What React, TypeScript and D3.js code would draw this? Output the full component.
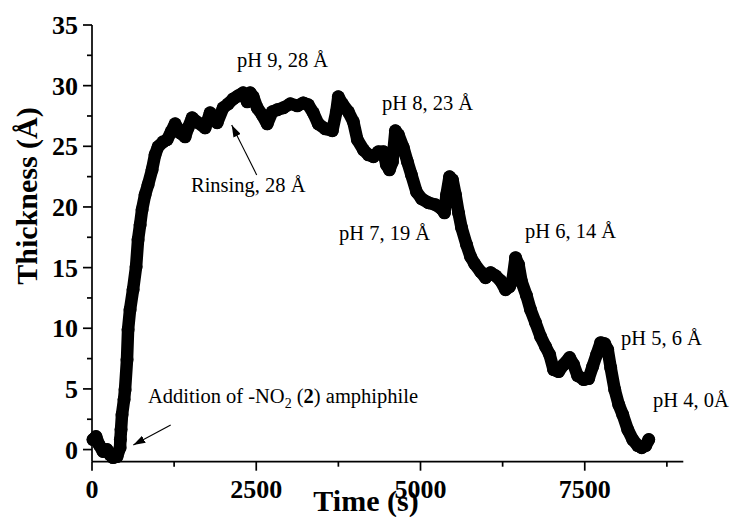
import React from "react";
import * as d3 from "d3";

const timeS: number[] = [
  15, 61, 107, 168, 229, 274, 320, 381, 427, 432, 442, 457, 488, 503, 533, 549, 579, 625, 671, 701,
  732, 762, 808, 853, 914, 960, 1006, 1082, 1143, 1204, 1265, 1341, 1417, 1463, 1524, 1615, 1722, 1798, 1905, 1996,
  2073, 2149, 2225, 2301, 2362, 2408, 2454, 2515, 2591, 2667, 2743, 2819, 2911, 3018, 3124, 3216, 3292, 3368, 3444, 3551,
  3658, 3719, 3749, 3810, 3902, 3978, 4039, 4131, 4207, 4283, 4359, 4436, 4481, 4527, 4573, 4618, 4664, 4740, 4801, 4862,
  4939, 5015, 5121, 5228, 5320, 5365, 5396, 5442, 5487, 5533, 5579, 5625, 5701, 5762, 5823, 5914, 5990, 6067, 6143, 6219,
  6294, 6355, 6401, 6447, 6493, 6538, 6614, 6675, 6751, 6828, 6904, 6965, 7026, 7102, 7178, 7269, 7330, 7391, 7483, 7559,
  7620, 7681, 7742, 7803, 7849, 7895, 7956, 8017, 8078, 8154, 8230, 8306, 8367, 8428, 8474,
];
const thicknessA: number[] = [
  0.82, 1.07, 0.41, -0.16, 0.0, -0.41, -0.66, -0.58, 0.16, 0.82, 1.65, 2.88, 4.12, 4.94, 7.41, 9.88, 11.53, 13.18, 15.07, 17.3,
  18.53, 19.77, 21.0, 21.83, 23.06, 24.3, 24.96, 25.37, 25.54, 26.19, 26.85, 26.11, 25.78, 26.52, 27.35, 26.94, 26.52, 27.76, 26.94, 28.17,
  28.5, 28.91, 29.16, 29.41, 28.67, 29.41, 29.08, 28.17, 27.59, 26.85, 27.84, 28.01, 28.17, 28.5, 28.34, 28.58, 28.42, 27.76, 26.85, 26.44,
  26.28, 27.84, 29.08, 28.5, 27.84, 27.02, 25.54, 24.71, 24.3, 24.14, 24.55, 24.55, 23.48, 23.06, 23.72, 26.28, 25.95, 24.88, 23.72, 22.65,
  21.25, 20.68, 20.35, 20.18, 19.85, 19.52, 21.0, 22.49, 22.24, 21.0, 19.52, 18.29, 16.89, 15.9, 15.32, 14.66, 14.17, 14.58, 14.33, 13.92,
  13.18, 13.43, 14.0, 15.82, 15.24, 13.84, 12.69, 11.53, 10.46, 9.31, 8.48, 7.83, 6.59, 6.43, 7.0, 7.58, 7.0, 6.1, 5.77, 5.85,
  6.84, 7.83, 8.81, 8.73, 8.24, 6.75, 4.94, 3.71, 2.88, 1.65, 0.82, 0.33, 0.16, 0.33, 0.82,
];

const xTicks: number[] = [0, 2500, 5000, 7500];
const xMinorTicks: number[] = [1250, 3750, 6250, 8750];
const yTicks: number[] = [0, 5, 10, 15, 20, 25, 30, 35];
const yMinorTicks: number[] = [2.5, 7.5, 12.5, 17.5, 22.5, 27.5, 32.5];

const W = 730;
const H = 517;
const FONT = "'Liberation Serif', 'Times New Roman', Times, serif";

export default function App() {
  const x = d3.scaleLinear().domain([0, 9000]).range([92, 683.3]);
  const y = d3.scaleLinear().domain([-1, 35]).range([461.7, 25]);
  const data = timeS.map((t, i) => ({ t, v: thicknessA[i] }));
  const line = d3
    .line<{ t: number; v: number }>()
    .x((d) => x(d.t))
    .y((d) => y(d.v));

  const x0 = x.range()[0];
  const x1 = x.range()[1];
  const y0 = y.range()[0];
  const y1 = y.range()[1];

  return (
    <svg
      width={W}
      height={H}
      viewBox={`0 0 ${W} ${H}`}
      style={{ position: "absolute", left: 0, top: 0, background: "#fff" }}
      fontFamily={FONT}
    >
      <defs>
        <marker id="ah" viewBox="0 0 12 8" refX="12" refY="4" markerWidth="12" markerHeight="8" markerUnits="userSpaceOnUse" orient="auto">
          <path d="M0,0 L12,4 L0,8 Z" fill="#000" />
        </marker>
      </defs>

      {/* data */}
      <path d={line(data) || ""} fill="none" stroke="#000" strokeWidth={12.5} strokeLinejoin="round" strokeLinecap="round" />
      {data.map((d, i) => (
        <circle key={i} cx={x(d.t)} cy={y(d.v)} r={6.5} fill="#000" />
      ))}

      {/* axes */}
      <line x1={x0} y1={y0} x2={x1} y2={y0} stroke="#000" strokeWidth={1.7} />
      <line x1={x0} y1={y0} x2={x0} y2={y1} stroke="#000" strokeWidth={1.7} />
      {xTicks.map((t) => (
        <g key={"xt" + t}>
          <line x1={x(t)} x2={x(t)} y1={y0} y2={y0 + 9} stroke="#000" strokeWidth={1.7} />
          <text x={x(t)} y={498} textAnchor="middle" fontSize={26} fontWeight="bold">
            {t}
          </text>
        </g>
      ))}
      {xMinorTicks.map((t) => (
        <line key={"xm" + t} x1={x(t)} x2={x(t)} y1={y0} y2={y0 + 5} stroke="#000" strokeWidth={1.7} />
      ))}
      {yTicks.map((v) => (
        <g key={"yt" + v}>
          <line x1={x0 - 9} x2={x0} y1={y(v)} y2={y(v)} stroke="#000" strokeWidth={1.7} />
          <text x={78} y={y(v) + 9} textAnchor="end" fontSize={26} fontWeight="bold">
            {v}
          </text>
        </g>
      ))}
      {yMinorTicks.map((v) => (
        <line key={"ym" + v} x1={x0 - 5} x2={x0} y1={y(v)} y2={y(v)} stroke="#000" strokeWidth={1.7} />
      ))}

      {/* axis titles */}
      <text x={366} y={511} textAnchor="middle" fontSize={30} fontWeight="bold">
        Time (s)
      </text>
      <text transform="translate(37,196) rotate(-90)" textAnchor="middle" fontSize={30} fontWeight="bold">
        Thickness (Å)
      </text>

      {/* annotations */}
      <g fontSize={20.5}>
        <text x={237} y={67}>pH 9, 28 Å</text>
        <text x={382} y={110}>pH 8, 23 Å</text>
        <text x={339} y={240}>pH 7, 19 Å</text>
        <text x={525} y={238}>pH 6, 14 Å</text>
        <text x={621} y={345}>pH 5, 6 Å</text>
        <text x={653} y={407}>pH 4, 0Å</text>
        <text x={191} y={192}>Rinsing, 28 Å</text>
        <text x={148} y={403}>
          Addition of -NO
          <tspan fontSize={14} dy={5}>2</tspan>
          <tspan dy={-5}> (</tspan>
          <tspan fontWeight="bold">2</tspan>
          <tspan>) amphiphile</tspan>
        </text>
      </g>
      <line x1={256.7} y1={175} x2={231.7} y2={125} stroke="#000" strokeWidth={1.1} markerEnd="url(#ah)" />
      <line x1={170.7} y1={425} x2={133.3} y2={445} stroke="#000" strokeWidth={1.1} markerEnd="url(#ah)" />
    </svg>
  );
}
